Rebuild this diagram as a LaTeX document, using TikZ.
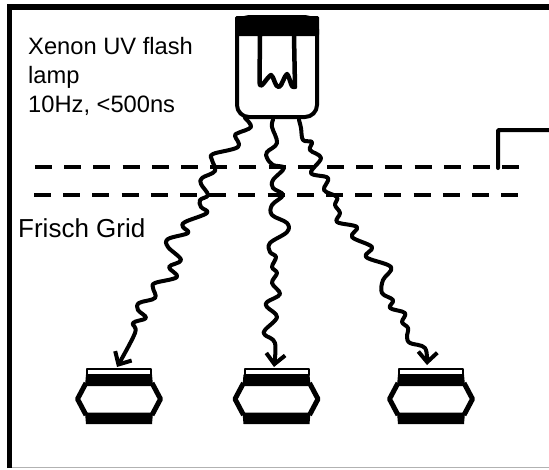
\documentclass[tikz,border=0pt]{standalone}
\usepackage{fontspec}
\setmainfont{Liberation Sans}
\usetikzlibrary{arrows.meta,positioning}
\tikzset{%
	frameline/.style = {line width=5.5pt},
	grid/.style      = {line width=4.5pt,dash pattern=on 17pt off 12.2pt},
	wave/.style      = {line width=4pt,line cap=round,line join=round},
	waveend/.style   = {wave,-{Straight Barb[length=10pt,width=19pt,line width=4pt]}},
	label/.style     = {align=left,inner sep=0pt,anchor=base west},
	lamp/.style      = {draw,line width=4pt,rounded corners=12pt,minimum width=80pt,minimum height=100pt,inner sep=0pt},
	detector/.style  = {minimum width=89pt,minimum height=56pt,inner sep=0pt},
}
\begin{document}
\begin{tikzpicture}[x=1pt,y=-1pt]
		\useasboundingbox (0,0) rectangle (549,469);
		% outer frame
		\draw[gray!60,line width=1pt] (8,467.5) -- (549,467.5);
		\draw[frameline] (9.5,468) |- (549,7);
		
		% flash lamp
		\node[lamp] (flash) at (277,67) {};
		\fill[rounded corners=1.5pt] (235,16) rectangle (319,36);
		\draw[line width=4.5pt,line cap=round,line join=round] (260,36) -- (259.5,82)
			.. controls (260,92) and (266,78) .. (271,75)
			.. controls (274,76) and (275,88) .. (279,87)
			.. controls (282,86) and (284,76) .. (287,74)
			.. controls (290,77) and (291,90) .. (295,87) -- (294,36);
		
		% grids and anode
		\draw[grid] (35,167) -- (519,167);
		\draw[grid] (34,195) -- (518,195);
		\draw[line width=4pt,line cap=round,rounded corners=1pt] (498,168) |- (549,130);
		
		% detectors
		\foreach \n/\x in {1/119,2/276.5,3/431}{
			\node[detector] (det\n) at (\x,396) {};
			\draw[line width=2pt,line join=round] (\x-32,368.5) rectangle (\x+32,375);
			\fill (\x-33,374.5) -- (\x+33,374.5) -- (\x+34,386) -- (\x-34,386) -- cycle;
			\fill (\x-34,412.5) -- (\x+34,412.5) -- (\x+33,424) -- (\x-33,424) -- cycle;
			\draw[line width=5pt,line join=round] (\x-33,383) -- (\x-41.5,399) -- (\x-33,415);
			\draw[line width=5pt,line join=round] (\x+33,383) -- (\x+41.5,399) -- (\x+33,415);
		}
		
		% light paths
		\coordinate (from1) at (245,118);
		\coordinate (from2) at (273,120);
		\coordinate (from3) at (299,120);
		\coordinate (to1) at (117,367);
		\coordinate (to2) at (274,367);
		\coordinate (to3) at (427,365);
		\draw[waveend] plot[smooth,tension=0.6] coordinates {(from1) (251,127) (238,133) (235,136) (238,147) (213,154) (212,160) (215,171) (202,178) (201,184) (208,195) (200,200) (201,207) (207,213) (185,222) (183,227) (188,233) (168,239) (168,247) (181,260) (169,267) (177,277) (155,283) (153,288) (155,298) (139,303) (138,310) (146,318) (133,323) (135,333) (to1)};
		\draw[waveend] plot[smooth,tension=0.6] coordinates {(from2) (272,127) (277,143) (267,152) (267,158) (273,165) (284,168) (273,180) (273,188) (283,195) (272,205) (272,215) (287,223) (287,232) (270,243) (270,252) (276,257) (272,267) (277,273) (272,283) (280,294) (267,302) (267,307) (277,317) (265,330) (265,335) (275,343) (to2)};
		\draw[waveend] plot[smooth,tension=0.6] coordinates {(from3) (301,128) (303,140) (312,142) (310,150) (321,158) (311,173) (328,178) (324,190) (337,197) (335,205) (340,213) (337,222) (357,227) (352,237) (372,247) (366,257) (391,267) (383,280) (382,293) (393,300) (390,308) (405,313) (402,322) (408,328) (407,337) (410,343) (425,348) (to3)};
		
		% labels
		\node[label,font=\fontsize{23.7}{29}\selectfont] (xenon) at (28,112) {Xenon UV flash\\lamp\\10Hz, <500ns};
		\node[label,font=\fontsize{26}{30}\selectfont] (frisch) at (18,237) {Frisch Grid};
		\end{tikzpicture}
\end{document}
